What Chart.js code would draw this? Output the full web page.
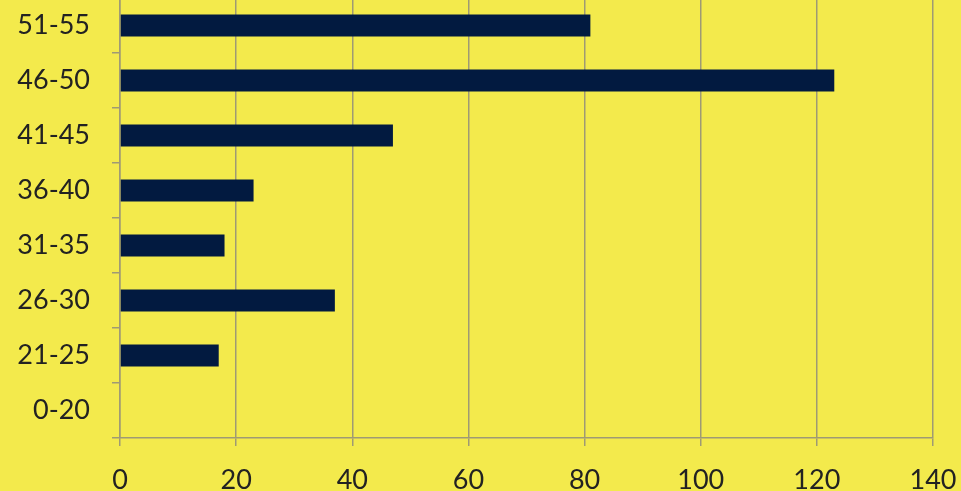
<!DOCTYPE html>
<html>
<head>
<meta charset="utf-8">
<script src="https://cdn.jsdelivr.net/npm/chart.js@4"></script>
<style>
  html, body { margin: 0; padding: 0; background: #f3ea4c; overflow: hidden; }
  #wrap { position: absolute; left: 0; top: -2px; width: 961px; height: 493px; }
</style>
</head>
<body>
<div id="wrap"><canvas id="myChart" width="961" height="493"></canvas></div>
<script>
var faixas = ['0-20', '21-25', '26-30', '31-35', '36-40', '41-45', '46-50', '51-55'];
var valores = [0, 17, 37, 18, 23, 47, 123, 81];
var escalaX = [0, 20, 40, 60, 80, 100, 120, 140];

var corGrade = '#9f9a74';

// sem folgas automaticas, a area do grafico fica onde a gente quer
function zeraFolgas(scale) {
    scale.paddingTop = 0;
    scale.paddingBottom = 0;
    scale.paddingLeft = 0;
    scale.paddingRight = 0;
}

var ctx = document.getElementById('myChart').getContext('2d');
var myChart = new Chart(ctx, {
    type: 'bar',
    data: {
        labels: faixas,
        datasets: [{
            data: valores,
            backgroundColor: '#021a40',
            borderWidth: 0,
            barPercentage: 0.4,
            categoryPercentage: 1
        }]
    },
    options: {
        indexAxis: 'y',
        responsive: false,
        animation: false,
        layout: { padding: { left: 0, right: 28, top: 0, bottom: 0 } },
        plugins: {
            legend: { display: false },
            tooltip: { enabled: false }
        },
        scales: {
            y: {
                reverse: true,
                grid: {
                    drawOnChartArea: false,
                    offset: true,
                    color: corGrade,
                    lineWidth: 1.5,
                    tickLength: 8
                },
                border: { color: corGrade, width: 1.5 },
                ticks: {
                    color: '#222',
                    padding: 22,
                    font: { family: 'Lato', size: 27 }
                },
                afterFit: function (scale) {
                    scale.width = 120;
                    zeraFolgas(scale);
                }
            },
            x: {
                min: escalaX[0],
                max: escalaX[escalaX.length - 1],
                afterBuildTicks: function (scale) {
                    scale.ticks = escalaX.map(function (v) { return { value: v }; });
                },
                grid: {
                    color: corGrade,
                    lineWidth: 1.5,
                    tickLength: 8
                },
                border: { color: corGrade, width: 1.5 },
                ticks: {
                    color: '#222',
                    padding: 18,
                    maxRotation: 0,
                    font: { family: 'Lato', size: 27 }
                },
                afterFit: function (scale) {
                    scale.height = 53;
                    zeraFolgas(scale);
                }
            }
        }
    }
});
</script>
</body>
</html>
